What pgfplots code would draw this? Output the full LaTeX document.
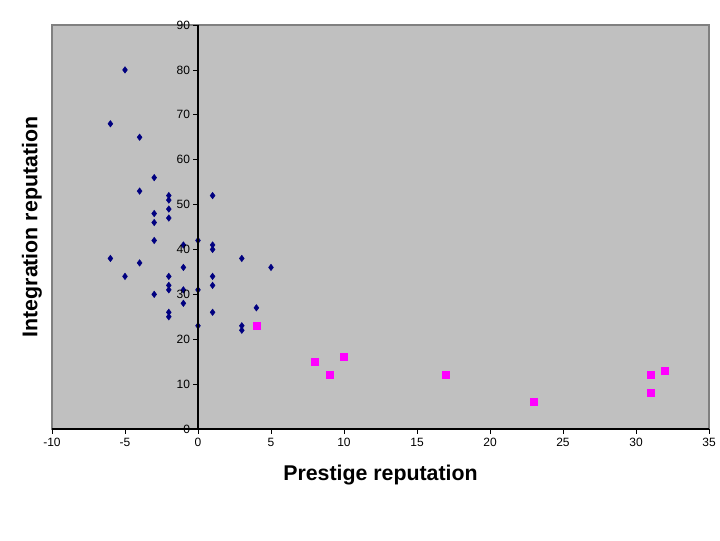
\documentclass[border=0pt]{standalone}
\usepackage{fontspec}
\setmainfont{Liberation Sans}
\usepackage{pgfplots}
\pgfplotsset{compat=1.18}
\definecolor{plotgray}{HTML}{C0C0C0}
\definecolor{bordergray}{HTML}{808080}
\definecolor{navyblue}{HTML}{000080}
\definecolor{excelmagenta}{HTML}{FF00FF}
\begin{document}
\begin{tikzpicture}
\path[use as bounding box] (-39pt,-83.25pt) rectangle (501pt,321.75pt);
\begin{axis}[
  at={(0,0)}, anchor=south west,
  width=492.75pt, height=303pt, scale only axis,
  xmin=-10, xmax=35, ymin=0, ymax=90,
  xtick={-10,-5,...,35}, ytick=\empty,
  axis x line=bottom, axis y line=left,
  axis line style={-, black, line width=0.8pt},
  y axis line style={draw=none},
  axis background/.style={fill=plotgray, draw=bordergray, line width=0.8pt},
  tick align=outside,
  hide obscured x ticks=false,
  major tick length=3.5pt,
  tick style={black, line width=0.6pt},
  ticklabel style={font=\fontsize{9}{9}\selectfont},
  /pgf/number format/assume math mode=true,
  every axis x label/.style={at={(rel axis cs:0.5,0)}, yshift=-34.5pt, anchor=center, font=\fontsize{16}{16}\selectfont\bfseries},
  every axis y label/.style={at={(rel axis cs:0,0.5)}, xshift=-15pt, rotate=90, anchor=center, font=\fontsize{16}{16}\selectfont\bfseries},
  xlabel={Prestige reputation},
  ylabel={Integration reputation},
  clip=false,
]
\addplot[only marks, mark=diamond*, mark size=2.4pt, color=navyblue] coordinates {
(-5,80) (-6,68) (-4,65) (-3,56) (-4,53) (-2,52) (-2,51) (-2,49) (-2,47)
(-3,48) (-3,46) (-3,42) (1,52) (0,42) (-1,41) (1,41) (1,40) (-6,38)
(-4,37) (-1,36) (-5,34) (-2,34) (1,34) (-2,32) (-2,31) (-1,31) (0,31)
(1,32) (-3,30) (-2,26) (-2,25) (-1,28) (0,23) (1,26) (3,38) (5,36)
(4,27) (3,23) (3,22)
};
\addplot[only marks, mark=square*, mark size=2.6pt, color=excelmagenta] coordinates {
(4,23) (8,15) (9,12) (10,16) (17,12) (23,6) (31,12) (31,8) (32,13)
};
\end{axis}
\begin{axis}[
  at={(109.5pt,0)}, anchor=south west,
  width=10pt, height=303pt, scale only axis,
  xmin=0, xmax=1, ymin=0, ymax=90,
  ytick={0,10,...,90}, xtick=\empty,
  axis x line=none, axis y line=left,
  axis line style={-, black, line width=0.8pt},
  tick align=outside,
  hide obscured y ticks=false,
  major tick length=3.5pt,
  tick style={black, line width=0.6pt},
  ticklabel style={font=\fontsize{9}{9}\selectfont},
  yticklabel style={xshift=1pt},
  /pgf/number format/assume math mode=true,
]
\end{axis}
\end{tikzpicture}
\end{document}
